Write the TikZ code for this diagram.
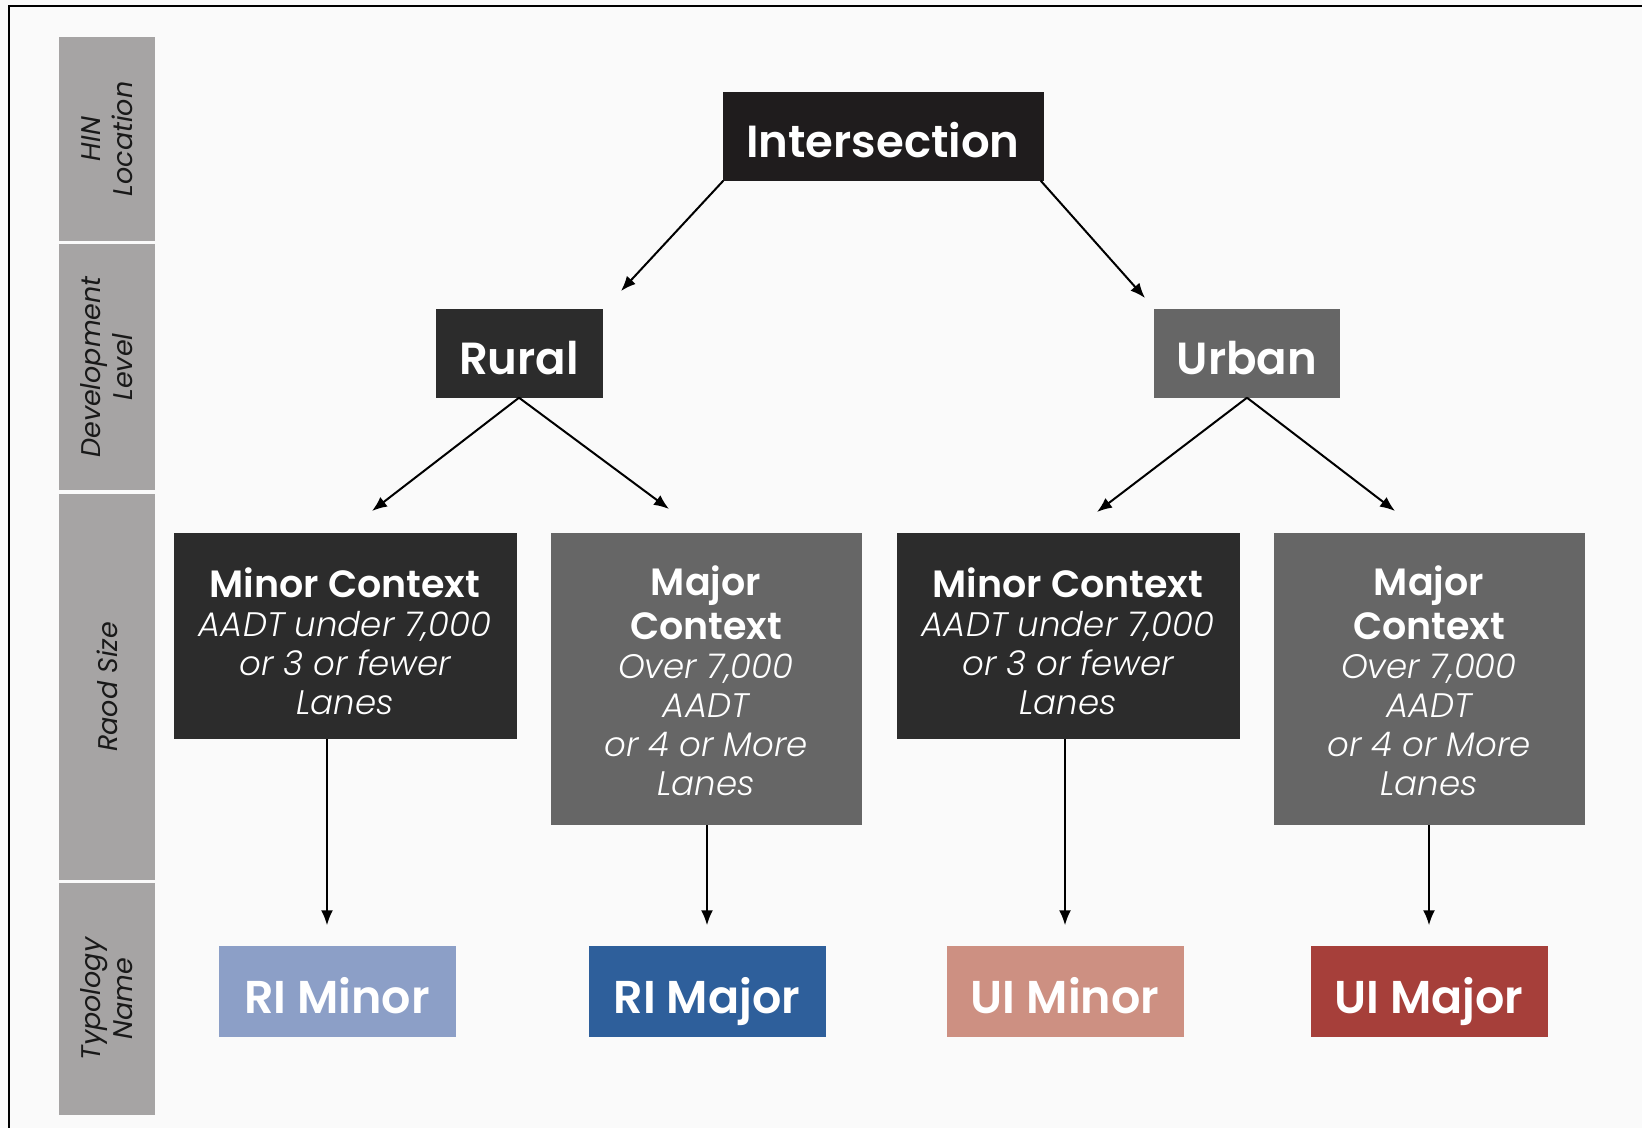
\documentclass[tikz,border=0pt]{standalone}
\usepackage{fontspec}
\setmainfont{Poppins}[BoldFont={Poppins SemiBold}]
\newfontfamily\lightit{Poppins Light Italic}
\newcommand\hdfont{\fontsize{38}{44}\selectfont\rmfamily\upshape\bfseries}
\usetikzlibrary{arrows.meta}

\definecolor{bgwhite}{HTML}{FAFAFA}
\definecolor{topblack}{HTML}{1F1C1D}
\definecolor{darkbox}{HTML}{2C2C2C}
\definecolor{midbox}{HTML}{666666}
\definecolor{sidegray}{HTML}{A6A4A4}
\definecolor{riminorc}{HTML}{8C9FC7}
\definecolor{rimajorc}{HTML}{2E5F9B}
\definecolor{uiminorc}{HTML}{CD9082}
\definecolor{uimajorc}{HTML}{A63F3A}

\tikzset{
    tree/.style={inner sep=0pt, text=white, align=center, text height=43pt, text depth=0pt,
        font=\fontsize{45}{50}\selectfont\bfseries},
    ctx/.style={inner sep=0pt, text=white, align=center,
        font=\fontsize{34}{39}\selectfont\lightit},
    typ/.style={inner sep=0pt, text=white, minimum width=237pt, minimum height=91pt,
        text height=44pt, text depth=0pt, font=\fontsize{46}{50}\selectfont\bfseries},
    side/.style={inner sep=0pt, fill=sidegray, rotate=90, minimum height=96pt,
        align=center, text=black!90, font=\fontsize{27}{32}\selectfont\itshape},
    arr/.style={line width=2pt, -{Latex[length=15pt,width=12pt]}}
}

\begin{document}
\begin{tikzpicture}[x=1pt, y=-1pt]
        \useasboundingbox[fill=bgwhite] (0,0) rectangle (1642,1128);
        \draw[line width=2.5pt] (1642,6) -| (9,1128);

        % left bar
        \node[side, minimum width=204pt] (hin) at (107,139) {HIN\\Location};
        \node[side, minimum width=246pt] (dev) at (107,367) {Development\\Level};
        \node[side, minimum width=386pt] (size) at (107,687) {Raod Size};
        \node[side, minimum width=232pt] (name) at (107,999) {Typology\\Name};

        % tree
        \node[tree, fill=topblack, minimum width=321pt, minimum height=89pt] (inter) at (883,136) {Intersection};
        \node[tree, fill=darkbox, minimum width=167pt, minimum height=89pt] (rural) at (519,353) {Rural};
        \node[tree, fill=midbox, minimum width=186pt, minimum height=89pt] (urban) at (1247,353) {Urban};

        \node[ctx, fill=darkbox, minimum width=343pt, minimum height=206pt] (minL) at (345,636)
            {\rule{0pt}{40pt}{\hdfont Minor Context}\\AADT under 7,000\\or 3 or fewer\\Lanes};
        \node[ctx, fill=midbox, minimum width=311pt, minimum height=292pt] (majL) at (706,679)
            {\rule{0pt}{34pt}{\hdfont Major}\\[5pt]{\hdfont Context}\\Over 7,000\\AADT\\or 4 or More\\Lanes};
        \node[ctx, fill=darkbox, minimum width=343pt, minimum height=206pt] (minR) at (1068,636)
            {\rule{0pt}{40pt}{\hdfont Minor Context}\\AADT under 7,000\\or 3 or fewer\\Lanes};
        \node[ctx, fill=midbox, minimum width=311pt, minimum height=292pt] (majR) at (1429,679)
            {\rule{0pt}{34pt}{\hdfont Major}\\[5pt]{\hdfont Context}\\Over 7,000\\AADT\\or 4 or More\\Lanes};

        \node[typ, fill=riminorc] (riminor) at (337,991) {RI Minor};
        \node[typ, fill=rimajorc] (rimajor) at (707,991) {RI Major};
        \node[typ, fill=uiminorc] (uiminor) at (1065,991) {UI Minor};
        \node[typ, fill=uimajorc] (uimajor) at (1429,991) {UI Major};

        % arrows
        \coordinate (e1) at (621,291);
        \coordinate (e2) at (1145,298);
        \coordinate (e3) at (372,511);
        \coordinate (e4) at (669,509);
        \coordinate (e5) at (1097,512);
        \coordinate (e6) at (1395,511);
        \draw[arr] ([xshift=1pt]inter.south west) -- (e1);
        \draw[arr] ([xshift=-3pt]inter.south east) -- (e2);
        \draw[arr] (rural.south) -- (e3);
        \draw[arr] (rural.south) -- (e4);
        \draw[arr] (urban.south) -- (e5);
        \draw[arr] (urban.south) -- (e6);
        \draw[arr, shorten >=20pt] ([xshift=-10pt]riminor.north |- minL.south) -- ([xshift=-10pt]riminor.north);
        \draw[arr, shorten >=20pt] (rimajor.north |- majL.south) -- (rimajor.north);
        \draw[arr, shorten >=20pt] (uiminor.north |- minR.south) -- (uiminor.north);
        \draw[arr, shorten >=20pt] (uimajor.north |- majR.south) -- (uimajor.north);
    \end{tikzpicture}
\end{document}
